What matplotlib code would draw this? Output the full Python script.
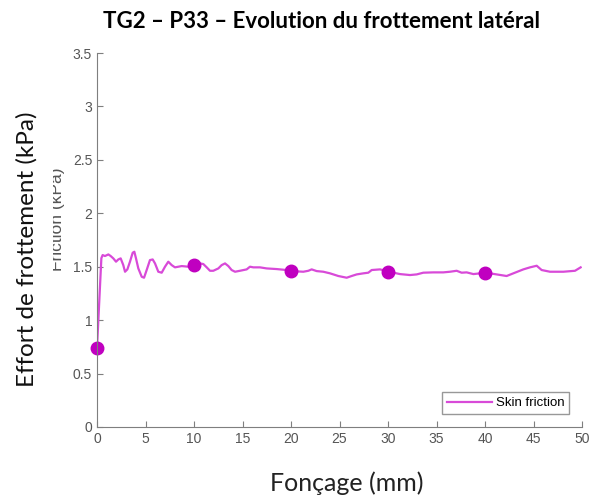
import matplotlib.pyplot as plt
from matplotlib.patches import Rectangle

# skin friction trace
depth = [0.0, 0.45, 0.58, 0.82, 1.17, 1.41, 1.68, 1.96, 2.20, 2.44, 2.71, 2.89, 3.13,
         3.40, 3.68, 3.85, 4.02, 4.26, 4.61, 4.85, 5.12, 5.46, 5.74, 5.98, 6.32, 6.67,
         7.01, 7.35, 7.70, 8.04, 8.73, 9.42, 10.10, 10.62, 10.96, 11.31, 11.65, 11.99,
         12.51, 12.85, 13.20, 13.54, 13.88, 14.23, 14.74, 15.43, 15.77, 16.12, 16.80,
         17.49, 18.52, 19.55, 20.07, 21.27, 21.79, 22.13, 22.65, 23.33, 24.02, 24.88,
         25.74, 26.25, 26.77, 27.46, 27.97, 28.32, 29.18, 30.10, 31.24, 32.27, 32.96,
         33.64, 34.67, 35.70, 36.39, 37.08, 37.59, 38.11, 38.80, 40.10, 41.20, 42.23,
         42.92, 43.95, 44.64, 45.33, 45.84, 46.70, 48.08, 49.28, 49.86]
friction = [0.74, 1.58, 1.609, 1.600, 1.615, 1.600, 1.578, 1.547, 1.568, 1.578, 1.515,
            1.453, 1.475, 1.547, 1.631, 1.640, 1.578, 1.484, 1.406, 1.397, 1.469, 1.562,
            1.568, 1.531, 1.453, 1.444, 1.500, 1.547, 1.515, 1.494, 1.506, 1.500, 1.522,
            1.531, 1.525, 1.494, 1.462, 1.462, 1.484, 1.515, 1.531, 1.506, 1.469, 1.453,
            1.462, 1.475, 1.500, 1.494, 1.494, 1.484, 1.478, 1.469, 1.459, 1.453, 1.462,
            1.475, 1.459, 1.453, 1.438, 1.413, 1.397, 1.413, 1.428, 1.438, 1.444, 1.469,
            1.475, 1.453, 1.431, 1.422, 1.428, 1.444, 1.447, 1.447, 1.453, 1.462, 1.444,
            1.447, 1.431, 1.444, 1.428, 1.413, 1.438, 1.475, 1.494, 1.509, 1.469, 1.453,
            1.453, 1.462, 1.494]

mark_depth = [0, 10, 20, 30, 40]
mark_friction = [0.74, 1.52, 1.46, 1.45, 1.44]

x_ticks = list(range(0, 55, 5))
y_ticks = [0, 0.5, 1, 1.5, 2, 2.5, 3, 3.5]
y_tick_labels = ['0', '0.5', '1', '1.5', '2', '2.5', '3', '3.5']

plt.rcParams['font.family'] = ['Liberation Sans', 'DejaVu Sans']

fig = plt.figure(figsize=(6.04, 5.0), dpi=100)
ax = fig.add_axes([97 / 604, 73 / 500, 485 / 604, 374 / 500])

ax.plot(depth, friction, color='#d84ad8', lw=1.6, label='Skin friction')
ax.plot(mark_depth, mark_friction, 'o', color='#c000c0', ms=9, clip_on=False)

ax.set_xlim(0, 50)
ax.set_ylim(0, 3.5)
ax.set_xticks(x_ticks)
ax.set_yticks(y_ticks)
ax.set_yticklabels(y_tick_labels)
for s in ['top', 'right']:
    ax.spines[s].set_visible(False)
for s in ['left', 'bottom']:
    ax.spines[s].set_color('#7f7f7f')
ax.tick_params(direction='in', length=4, colors='#7f7f7f', labelcolor='#555555',
               labelsize=10)

leg = ax.legend(loc='lower right', fontsize=9.5, frameon=True, fancybox=False,
                borderaxespad=1.0, handlelength=3.4, handletextpad=0.3,
                borderpad=0.35)
leg.get_frame().set_edgecolor('#7f7f7f')
leg.get_frame().set_linewidth(1.0)

# old axis label, half hidden behind a white block
fig.text(57.5 / 604, 1 - 219 / 500, 'Friction (kPa)', ha='center', va='center',
         rotation=90, fontsize=12.5, color='#555555', zorder=0.5)
fig.patches.append(Rectangle((0, 0.1), 53 / 604, 0.8, transform=fig.transFigure,
                             facecolor='white', edgecolor='none', zorder=1))

fig.text(322 / 604, 0.956, 'TG2 – P33 – Evolution du frottement latéral',
         ha='center', va='center', fontsize=16, fontweight='bold', family='Lato')
fig.text(347 / 604, 0.034, 'Fonçage (mm)', ha='center', va='center',
         fontsize=18, family='Lato', color='#222222')
fig.text(27 / 604, 0.502, 'Effort de frottement (kPa)', ha='center', va='center',
         rotation=90, fontsize=17.5, family='Lato', color='#111111', zorder=3)

fig.savefig('out.png', dpi=100)
